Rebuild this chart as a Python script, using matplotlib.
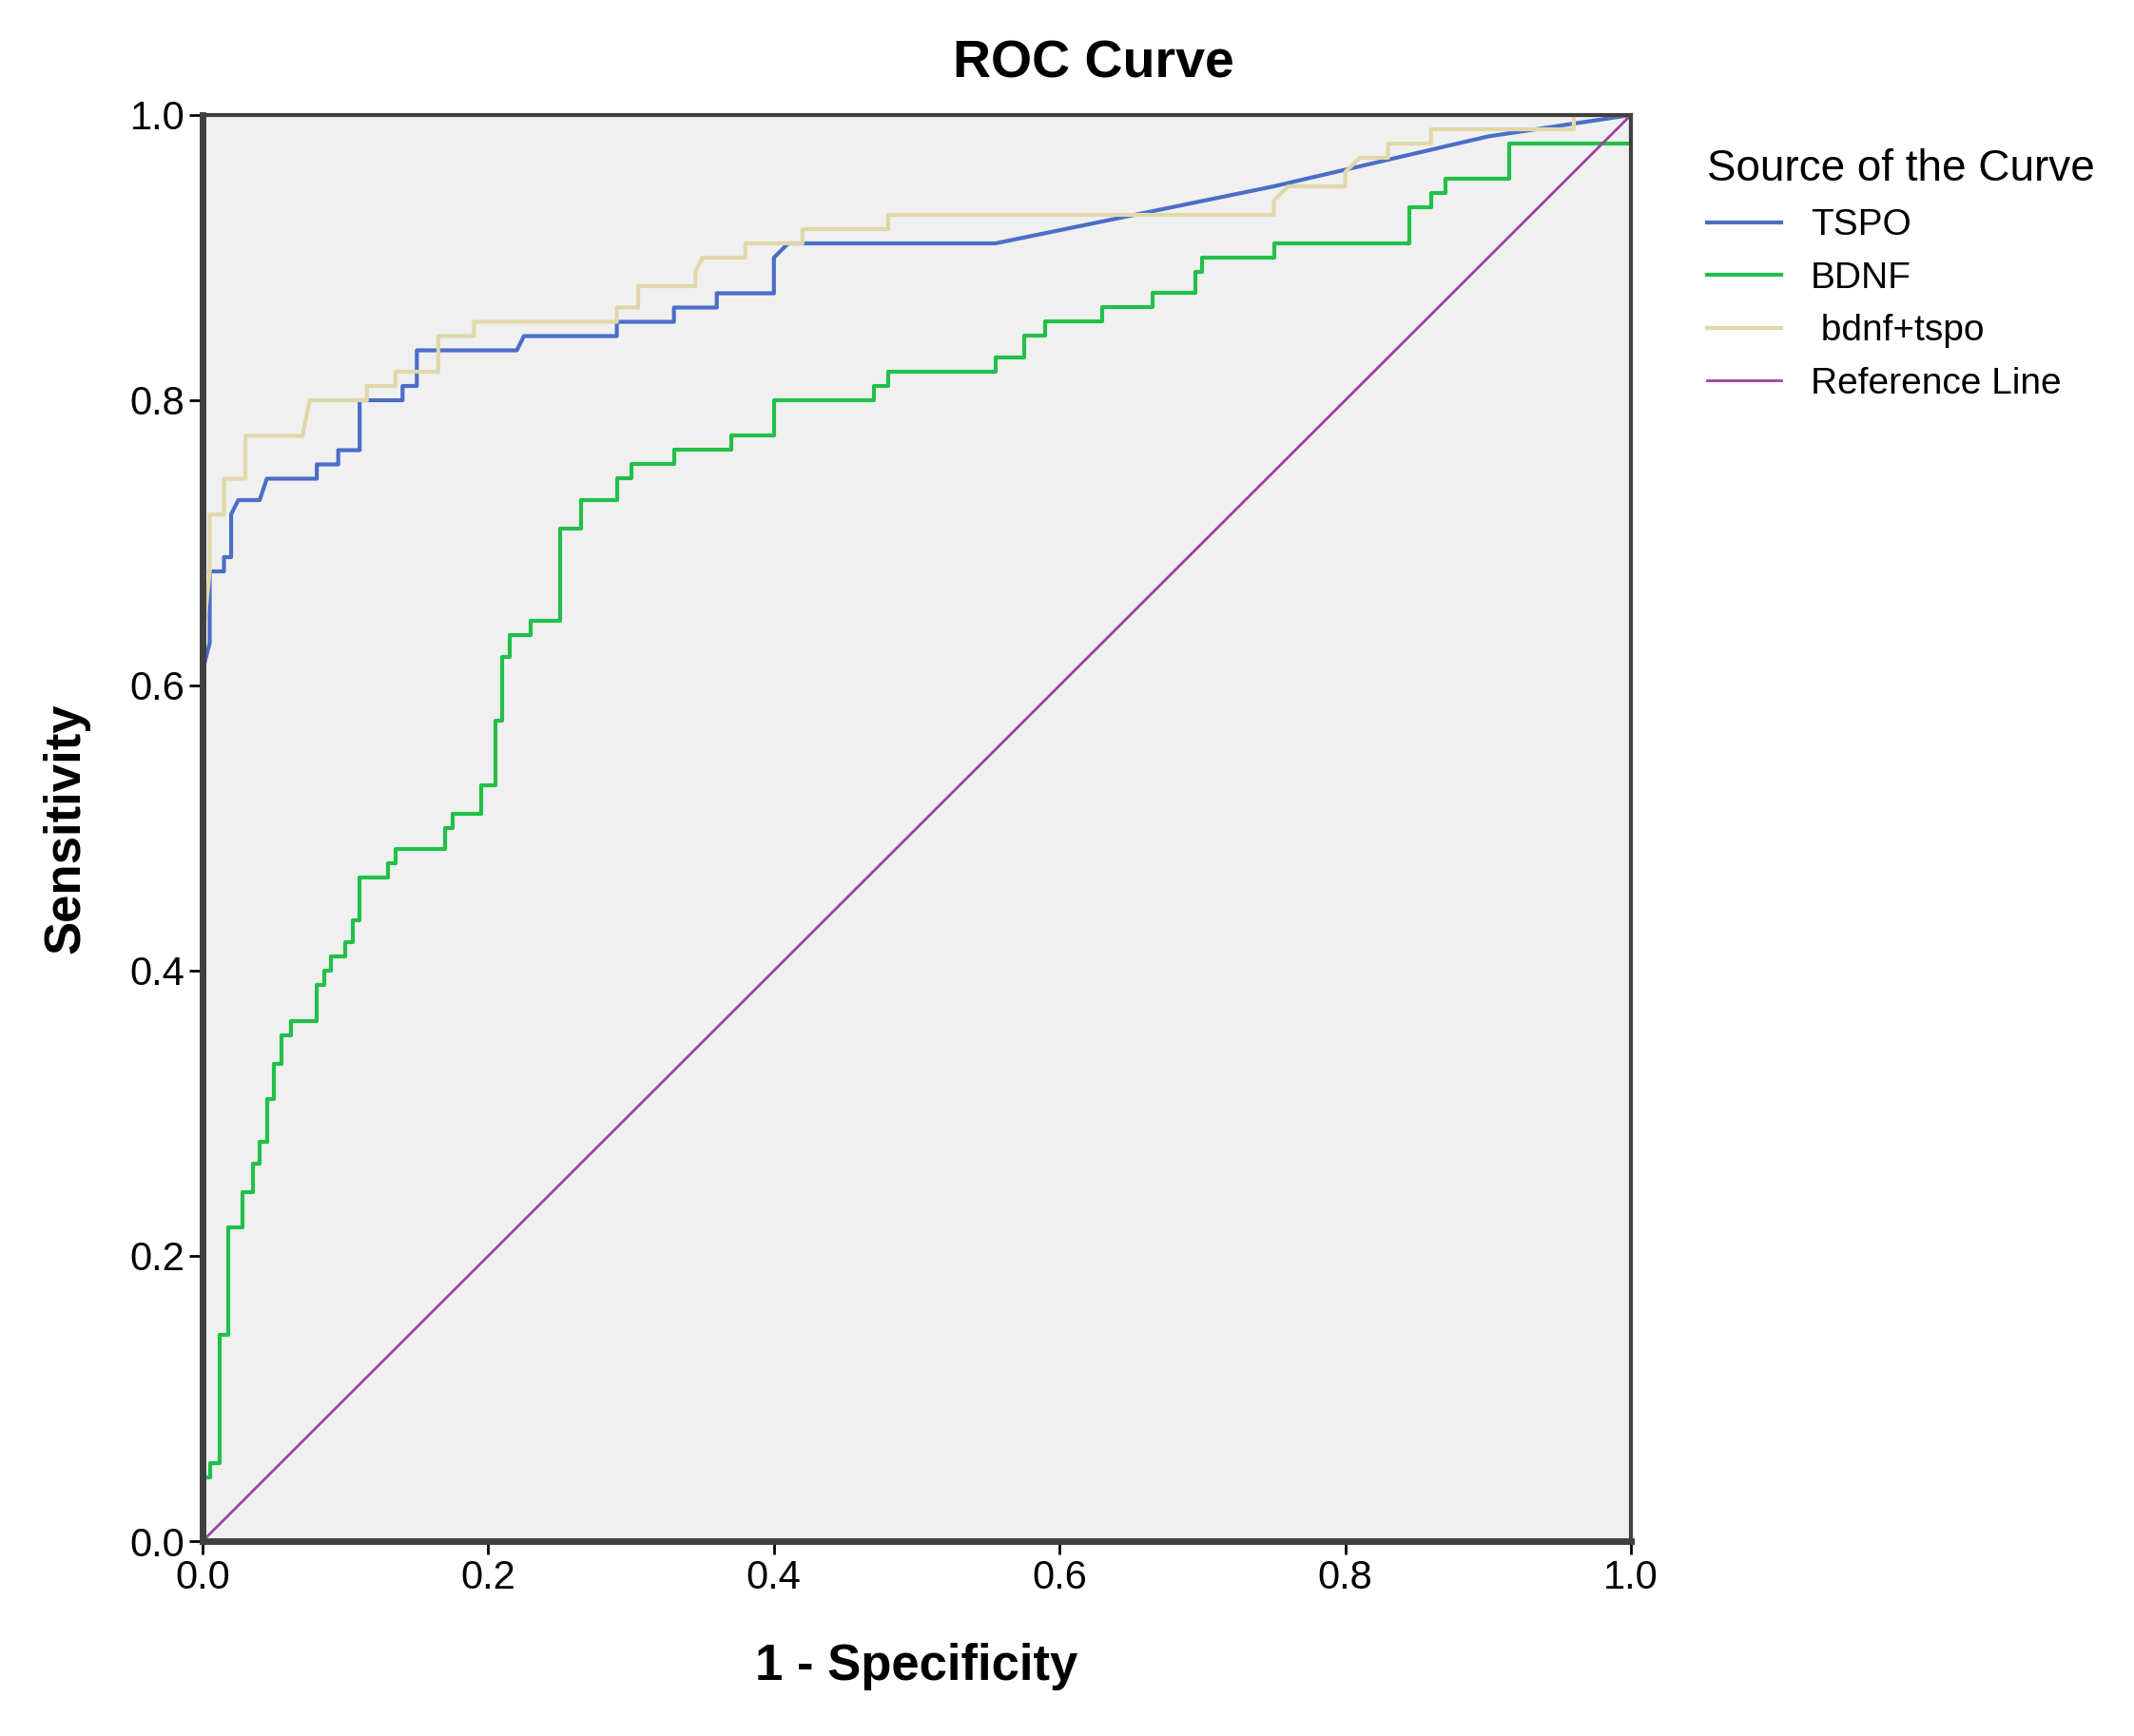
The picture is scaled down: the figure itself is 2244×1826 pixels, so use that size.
import matplotlib
matplotlib.use("Agg")
import matplotlib.pyplot as plt

plt.rcParams["font.family"] = "Liberation Sans"

tspo_x = [0,0,0.005,0.005,0.015,0.015,0.02,0.02,0.025,0.04,0.045,0.08,0.08,0.095,0.095,0.11,0.11,0.14,0.14,0.15,0.15,0.22,0.225,0.29,0.29,0.33,0.33,0.36,0.36,0.40,0.40,0.41,0.555,0.75,0.9,1.0]
tspo_y = [0,0.61,0.63,0.68,0.68,0.69,0.69,0.72,0.73,0.73,0.745,0.745,0.755,0.755,0.765,0.765,0.80,0.80,0.81,0.81,0.835,0.835,0.845,0.845,0.855,0.855,0.865,0.865,0.875,0.875,0.90,0.91,0.91,0.95,0.985,1.0]

comb_x = [0,0,0.005,0.005,0.015,0.015,0.03,0.03,0.07,0.075,0.115,0.115,0.135,0.135,0.165,0.165,0.19,0.19,0.29,0.29,0.305,0.305,0.345,0.345,0.35,0.38,0.38,0.42,0.42,0.48,0.48,0.75,0.75,0.76,0.80,0.80,0.81,0.83,0.83,0.86,0.86,0.96,0.96,1.0]
comb_y = [0,0.63,0.68,0.72,0.72,0.745,0.745,0.775,0.775,0.80,0.80,0.81,0.81,0.82,0.82,0.845,0.845,0.855,0.855,0.865,0.865,0.88,0.88,0.89,0.90,0.90,0.91,0.91,0.92,0.92,0.93,0.93,0.94,0.95,0.95,0.96,0.97,0.97,0.98,0.98,0.99,0.99,1.0,1.0]

bdnf_x = [0,0,0.005,0.005,0.012,0.012,0.018,0.018,0.028,0.028,0.035,0.035,0.04,0.04,0.045,0.045,0.05,0.05,0.055,0.055,0.062,0.062,0.08,0.08,0.085,0.085,0.09,0.09,0.10,0.10,0.105,0.105,0.11,0.11,0.13,0.13,0.135,0.135,0.17,0.17,0.175,0.175,0.195,0.195,0.205,0.205,0.21,0.21,0.215,0.215,0.23,0.23,0.25,0.25,0.265,0.265,0.29,0.29,0.30,0.30,0.33,0.33,0.37,0.37,0.40,0.40,0.47,0.47,0.48,0.48,0.555,0.555,0.575,0.575,0.59,0.59,0.63,0.63,0.665,0.665,0.695,0.695,0.70,0.70,0.75,0.75,0.845,0.845,0.86,0.86,0.87,0.87,0.915,0.915,1.0,1.0]
bdnf_y = [0,0.045,0.045,0.055,0.055,0.145,0.145,0.22,0.22,0.245,0.245,0.265,0.265,0.28,0.28,0.31,0.31,0.335,0.335,0.355,0.355,0.365,0.365,0.39,0.39,0.40,0.40,0.41,0.41,0.42,0.42,0.435,0.435,0.465,0.465,0.475,0.475,0.485,0.485,0.50,0.50,0.51,0.51,0.53,0.53,0.575,0.575,0.62,0.62,0.635,0.635,0.645,0.645,0.71,0.71,0.73,0.73,0.745,0.745,0.755,0.755,0.765,0.765,0.775,0.775,0.80,0.80,0.81,0.81,0.82,0.82,0.83,0.83,0.845,0.845,0.855,0.855,0.865,0.865,0.875,0.875,0.89,0.89,0.90,0.90,0.91,0.91,0.935,0.935,0.945,0.945,0.955,0.955,0.98,0.98,1.0]

ref_x = [0, 1]
ref_y = [0, 1]

fig = plt.figure(figsize=(22.44, 18.26), dpi=100)
ax = fig.add_axes([213/2244, 1-1621/1826, 1502/2244, 1500/1826])
ax.set_facecolor("#f0f0f0")
ax.plot(tspo_x, tspo_y, color="#4a6ec8", lw=3, label="TSPO")
ax.plot(bdnf_x, bdnf_y, color="#22c04a", lw=3, label="BDNF")
ax.plot(comb_x, comb_y, color="#e0d8a8", lw=3, label=" bdnf+tspo")
ax.plot(ref_x, ref_y, color="#a040a0", lw=2, label="Reference Line")
ax.set_xlim(0, 1); ax.set_ylim(0, 1)
ticks = [0.0, 0.2, 0.4, 0.6, 0.8, 1.0]
ax.set_xticks(ticks); ax.set_yticks(ticks)
ax.set_xticklabels([f"{t:.1f}" for t in ticks]); ax.set_yticklabels([f"{t:.1f}" for t in ticks])
ax.tick_params(labelsize=30, length=10, width=2)
for s in ax.spines.values():
    s.set_linewidth(3); s.set_color("#404040")
ax.spines["left"].set_linewidth(5); ax.spines["bottom"].set_linewidth(5)
fig.text(1150/2244, 1-68/1826, "ROC Curve", fontsize=40, fontweight="bold", ha="center", va="center")
ax.set_xlabel("1 - Specificity", fontsize=38, fontweight="bold", labelpad=35)
ax.set_ylabel("Sensitivity", fontsize=38, fontweight="bold", labelpad=30)
leg = ax.legend(loc="upper left", bbox_to_anchor=(1.03, 1.0), frameon=False,
                fontsize=28, title="Source of the Curve", title_fontsize=33,
                handlelength=2.0, alignment="left")
fig.savefig("out.png", dpi=100)
